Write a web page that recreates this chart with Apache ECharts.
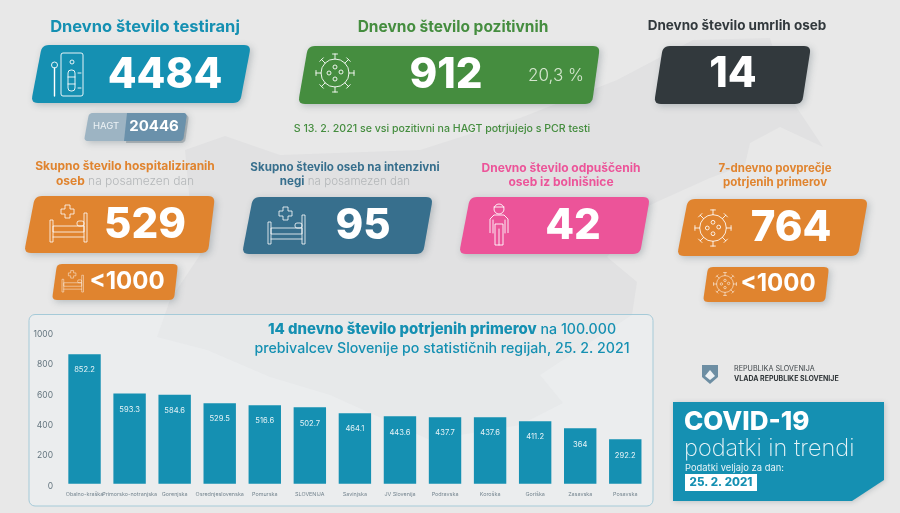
<!DOCTYPE html>
<html>
<head>
<meta charset="UTF-8">
<title>COVID-19 podatki in trendi</title>
<script src="https://cdn.jsdelivr.net/npm/echarts@6/dist/echarts.min.js"></script>
<style>
html, body { margin: 0; padding: 0; background: #e8e8e8; }
#main { width: 900px; height: 513px; }
</style>
</head>
<body>
<div id="main"></div>
<script>
// data
var regions = ['Obalno-kraška', 'Primorsko-notranjska', 'Gorenjska', 'Osrednjeslovenska', 'Pomurska', 'SLOVENIJA', 'Savinjska', 'JV Slovenija', 'Podravska', 'Koroška', 'Goriška', 'Zasavska', 'Posavska'];
var cases14d = [852.2, 593.3, 584.6, 529.5, 516.6, 502.7, 464.1, 443.6, 437.7, 437.6, 411.2, 364, 292.2];
var yMin = 0, yMax = 1000, yStep = 200;
var tests = '4484', hagt = '20446', positive = '912', positiveShare = '20,3 %', deaths = '14';
var hospital = '529', icu = '95', discharged = '42', avg7d = '764', below = '<1000';
var dateText = '25. 2. 2021';

var FONT = 'Inter';
var TEAL = '#1590b2', GREEN = '#458d3f', DARK = '#32393d', ORANGE = '#e0842f', PETROL = '#376f8d', PINK = '#ec5499';

var g = [];

function txt(s, x, y, size, color, weight, align) {
    return {
        type: 'text', silent: true, x: x, y: y,
        style: { text: s, fontFamily: FONT, fontSize: size, fontWeight: weight || 400, fill: color, align: align || 'center', verticalAlign: 'middle' }
    };
}
// two tone text line, used by the small card headings
function txt2(a, b, x, y, size, colA, colB) {
    return {
        type: 'text', silent: true, x: x, y: y,
        style: {
            text: '{a|' + a + '}{b|' + b + '}', align: 'center', verticalAlign: 'middle', fontFamily: FONT,
            rich: {
                a: { fontFamily: FONT, fontSize: size, fontWeight: 700, fill: colA },
                b: { fontFamily: FONT, fontSize: size, fontWeight: 300, fill: colB }
            }
        }
    };
}
// slanted card, corners rounded by sampling a curve around each vertex
function card(xbl, xtl, xtr, xbr, y0, y1, color, shadow, radii) {
    var v = [[xtl, y0], [xtr, y0], [xbr, y1], [xbl, y1]];
    var rs = radii || [7, 7, 7, 7];
    var pts = [];
    for (var i = 0; i < 4; i++) {
        var p = v[i], a = v[(i + 3) % 4], b = v[(i + 1) % 4], r = rs[i];
        var la = Math.hypot(a[0] - p[0], a[1] - p[1]), lb = Math.hypot(b[0] - p[0], b[1] - p[1]);
        var s = [p[0] + (a[0] - p[0]) * r / la, p[1] + (a[1] - p[1]) * r / la];
        var e = [p[0] + (b[0] - p[0]) * r / lb, p[1] + (b[1] - p[1]) * r / lb];
        for (var t = 0; t <= 6; t++) {
            var u = t / 6;
            pts.push([
                (1 - u) * (1 - u) * s[0] + 2 * u * (1 - u) * p[0] + u * u * e[0],
                (1 - u) * (1 - u) * s[1] + 2 * u * (1 - u) * p[1] + u * u * e[1]
            ]);
        }
    }
    return {
        type: 'polygon', silent: true,
        shape: { points: pts },
        style: { fill: color, shadowBlur: shadow === 0 ? 0 : 7, shadowColor: 'rgba(70,90,100,0.3)', shadowOffsetX: 2, shadowOffsetY: 2 }
    };
}
function ln(x1, y1, x2, y2, c, w) {
    return { type: 'line', silent: true, shape: { x1: x1, y1: y1, x2: x2, y2: y2 }, style: { stroke: c, lineWidth: w, lineCap: 'round' } };
}
function ring(x, y, r, c, w) {
    return { type: 'circle', silent: true, shape: { cx: x, cy: y, r: r }, style: { fill: 'none', stroke: c, lineWidth: w } };
}
function box(x, y, w, h, c, lw, r) {
    return { type: 'rect', silent: true, shape: { x: x, y: y, width: w, height: h, r: r || 0 }, style: { fill: 'none', stroke: c, lineWidth: lw } };
}
function virus(cx, cy, s, c) {
    var kids = [ring(0, 0, 14, c, 0.9), ring(0, -6, 2, c, 0.9), ring(-6, 0, 2, c, 0.9), ring(6, -1, 2, c, 0.9), ring(0, 6, 2, c, 0.9)];
    for (var i = 0; i < 8; i++) {
        var a = i * Math.PI / 4, dx = Math.cos(a), dy = Math.sin(a);
        kids.push(ln(dx * 14, dy * 14, dx * 19, dy * 19, c, 0.9));
        kids.push(ln(dx * 19 - dy * 2.5, dy * 19 + dx * 2.5, dx * 19 + dy * 2.5, dy * 19 - dx * 2.5, c, 0.9));
    }
    return { type: 'group', silent: true, x: cx, y: cy, scaleX: s, scaleY: s, children: kids };
}
function bed(x, y, s, c) {
    var w = 0.8;
    return {
        type: 'group', silent: true, x: x, y: y, scaleX: s, scaleY: s,
        children: [
            box(0, 16, 3, 22, c, w), box(34, 9, 3, 29, c, w),
            box(3, 22, 31, 6, c, w), ln(3, 33, 34, 33, c, w),
            box(27, 17, 7, 5, c, w, 2),
            { type: 'polygon', silent: true, shape: { points: [[15, 1], [20, 1], [20, 5], [24, 5], [24, 10], [20, 10], [20, 14], [15, 14], [15, 10], [11, 10], [11, 5], [15, 5]] }, style: { fill: 'none', stroke: c, lineWidth: w } }
        ]
    };
}

// map silhouette behind everything
g.push({
    type: 'polygon', silent: true, z: -10,
    shape: { points: [[185, 150], [225, 136], [280, 155], [420, 150], [520, 118], [617, 80], [693, 40], [770, 38], [785, 90], [823, 147], [780, 127], [750, 143], [745, 165], [710, 178], [650, 205], [607, 257], [637, 282], [632, 315], [540, 375], [563, 403], [520, 425], [430, 440], [330, 395], [270, 377], [207, 350], [157, 337], [170, 300], [200, 255], [190, 205]] },
    style: { fill: '#e1e1e2' }
});

// top row
g.push(txt('Dnevno število testiranj', 145, 27, 16.5, TEAL, 700));
g.push(card(31, 42, 251, 240, 45, 103, TEAL));
g.push({
    type: 'group', silent: true, x: 52, y: 53,
    children: [
    box(9, 0, 22, 43, '#fff', 0.9, 2), ring(2.5, 12, 3, '#fff', 0.9), ln(2.5, 15, 2.5, 43, '#fff', 1.4),
    ring(20, 9, 2, '#fff', 0.9), box(16, 17, 7, 21, '#fff', 0.9, 3), ln(16, 24, 23, 24, '#fff', 0.9), ln(16, 31, 23, 31, '#fff', 0.9),
    ln(26, 20, 29, 20, '#fff', 0.9), ln(26, 35, 29, 35, '#fff', 0.9)
    ]
});
g.push(txt(tests, 165, 75, 42, '#fff', 800));
g.push(card(84, 89, 187, 183, 113, 141, '#9db4c3', 1, [4, 4, 4, 4]));
g.push(card(124, 127, 187, 183, 113, 141, '#6a91ab', 0, [0, 4, 4, 0]));
g.push(txt('HAGT', 106, 126, 9.5, '#eef3f6', 400));
g.push(txt(hagt, 154, 126, 15, '#fff', 700));

g.push(txt('Dnevno število pozitivnih', 453, 27, 15.5, GREEN, 700));
g.push(card(298, 308, 600, 592, 46, 104, GREEN));
g.push(virus(335, 73, 1, '#fff'));
g.push(txt(positive, 446, 75, 42, '#fff', 800));
g.push(txt(positiveShare, 556, 76, 17, '#d5e6cf', 300));
g.push(txt('S 13. 2. 2021 se vsi pozitivni na HAGT potrjujejo s PCR testi', 442, 129, 10.6, GREEN, 500));

g.push(txt('Dnevno število umrlih oseb', 737, 26, 13.5, DARK, 700));
g.push(card(654, 663, 811, 802, 46, 104, DARK));
g.push(txt(deaths, 733, 74, 42, '#fff', 800));

// middle row
g.push(txt('Skupno število hospitaliziranih', 125, 166, 12, ORANGE, 700));
g.push(txt2('oseb', ' na posamezen dan', 125, 181, 12, ORANGE, '#b4b7b9'));
g.push(card(24, 35, 215, 208, 196, 253, ORANGE));
g.push(bed(50, 204, 1, '#fff'));
g.push(txt(hospital, 145, 225, 42, '#fff', 800));
g.push(card(52, 57, 178, 174, 264, 300, ORANGE, 1, [5, 5, 5, 5]));
g.push(bed(62, 270, 0.58, '#fff'));
g.push(txt(below, 127, 282, 24, '#fff', 700));

g.push(txt('Skupno število oseb na intenzivni', 345, 168, 11.6, PETROL, 700));
g.push(txt2('negi', ' na posamezen dan', 345, 182, 11.6, PETROL, '#b4b7b9'));
g.push(card(242, 253, 433, 423, 197, 254, PETROL));
g.push(bed(268, 206, 1, '#fff'));
g.push(txt(icu, 363, 226, 42, '#fff', 800));

g.push(txt('Dnevno število odpuščenih', 561, 168, 12, PINK, 700));
g.push(txt('oseb iz bolnišnice', 561, 182, 12, PINK, 700));
g.push(card(459, 470, 650, 640, 197, 254, PINK));
g.push({
    type: 'group', silent: true, x: 490, y: 202,
    children: [
    ring(9, 7, 5, '#fff', 0.9), ln(4, 5, 14, 5, '#fff', 0.9),
    { type: 'polyline', silent: true, shape: { points: [[0, 31], [0, 17], [4, 13], [14, 13], [18, 17], [18, 31]] }, style: { fill: 'none', stroke: '#fff', lineWidth: 0.9 } },
    ln(3, 18, 3, 31, '#fff', 0.9), ln(15, 18, 15, 31, '#fff', 0.9), box(5, 22, 8, 21, '#fff', 0.9), ln(9, 27, 9, 43, '#fff', 0.9)
    ]
});
g.push(txt(discharged, 573, 226, 42, '#fff', 800));

g.push(txt('7-dnevno povprečje', 775, 169, 11.5, ORANGE, 700));
g.push(txt('potrjenih primerov', 775, 183, 11.5, ORANGE, 700));
g.push(card(677, 688, 868, 858, 199, 256, ORANGE));
g.push(virus(713, 228, 0.95, '#fff'));
g.push(txt(avg7d, 791, 228, 42, '#fff', 800));
g.push(card(703, 708, 829, 825, 267, 302, ORANGE, 1, [5, 5, 5, 5]));
g.push(virus(725, 284, 0.6, '#fff'));
g.push(txt(below, 778, 284, 24, '#fff', 700));

// panel around the bars
g.push({
    type: 'rect', silent: true, z: -5,
    shape: { x: 29, y: 314.5, width: 624, height: 191.5, r: 6 },
    style: { fill: 'rgba(241,245,247,0.4)', stroke: '#a5cad8', lineWidth: 1 }
});

// logo and date box
g.push({ type: 'polygon', silent: true, shape: { points: [[702, 365], [718, 365], [718, 377], [710, 384], [702, 377]] }, style: { fill: '#6d8ea3' } });
g.push({ type: 'polygon', silent: true, shape: { points: [[705, 376], [710, 370], [715, 376], [710, 380]] }, style: { fill: '#eef2f4' } });
g.push(txt('REPUBLIKA SLOVENIJA', 734, 369, 7.2, '#3e4549', 400, 'left'));
g.push(txt('VLADA REPUBLIKE SLOVENIJE', 734, 379, 7, '#2f3538', 700, 'left'));
g.push({
    type: 'polygon', silent: true,
    shape: { points: [[673, 402], [884, 402], [884, 480], [852, 501], [673, 501]] },
    style: { fill: TEAL, shadowBlur: 5, shadowColor: 'rgba(70,90,100,0.25)', shadowOffsetX: 1, shadowOffsetY: 1 }
});
g.push(txt('COVID-19', 684, 422, 26, '#fff', 800, 'left'));
g.push(txt('podatki in trendi', 684, 449, 23.5, '#e6f3f7', 200, 'left'));
g.push(txt('Podatki veljajo za dan:', 685, 468, 9.4, '#e6f3f7', 400, 'left'));
g.push({ type: 'rect', silent: true, shape: { x: 685, y: 474, width: 72, height: 17 }, style: { fill: '#fff' } });
g.push(txt(dateText, 721, 483, 11.5, TEAL, 800));

var chart = echarts.init(document.getElementById('main'));
chart.setOption({
    animation: false,
    backgroundColor: '#e8e8e8',
    title: {
        left: 437, top: 315, textAlign: 'center',
        text: '{b|14 dnevno število potrjenih primerov}{n| na 100.000}\n{n|prebivalcev Slovenije po statističnih regijah, 25. 2. 2021}',
        textStyle: {
            rich: {
                b: { fontFamily: FONT, fontSize: 14.9, fontWeight: 800, color: TEAL, lineHeight: 19 },
                n: { fontFamily: FONT, fontSize: 14.2, fontWeight: 500, color: TEAL, lineHeight: 19 }
            }
        }
    },
    grid: { left: 62, top: 331.7, width: 585.8, height: 152 },
    xAxis: {
        type: 'category',
        data: regions,
        axisLine: { show: false },
        axisTick: { show: false },
        axisLabel: { interval: 0, hideOverlap: false, fontFamily: FONT, fontSize: 5.4, color: '#75858f', margin: 8 }
    },
    yAxis: {
        type: 'value', min: yMin, max: yMax, interval: yStep,
        axisLine: { show: false },
        axisTick: { show: false },
        splitLine: { show: false },
        axisLabel: { fontFamily: FONT, fontSize: 8.5, color: '#64757f', margin: 9, verticalAlign: 'top', lineHeight: 5, formatter: function (v) { return String(v); } }
    },
    series: [{
        type: 'bar',
        data: cases14d,
        barWidth: 32.4,
        itemStyle: { color: TEAL },
        label: { show: true, position: 'insideTop', distance: 12, fontFamily: FONT, fontSize: 7.6, color: '#e6f3f7' }
    }],
    graphic: g
});
</script>
</body>
</html>
